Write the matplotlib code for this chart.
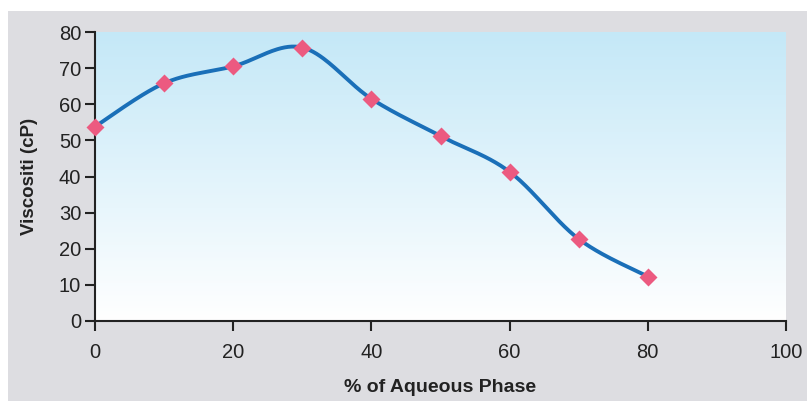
import matplotlib.pyplot as plt
import numpy as np

# aqueous phase (%) vs viscosity (cP)
aqueous = [0, 10, 20, 30, 40, 50, 60, 70, 80]
viscosity = [53.8, 65.8, 70.5, 75.7, 61.5, 51.2, 41.3, 22.7, 12.3]
x_ticks = [0, 20, 40, 60, 80, 100]
y_ticks = [0, 10, 20, 30, 40, 50, 60, 70, 80]


def smooth_curve(x, y, n=40):
    """Excel-style smoothed line: Catmull-Rom segments through the points."""
    x = np.asarray(x, float)
    y = np.asarray(y, float)
    px = np.concatenate([[x[0]], x, [x[-1]]])
    py = np.concatenate([[y[0]], y, [y[-1]]])
    xs, ys = [], []
    t = np.linspace(0, 1, n)
    for i in range(1, len(px) - 2):
        p0, p1, p2, p3 = [np.array([px[j], py[j]]) for j in range(i - 1, i + 3)]
        c1 = p1 + (p2 - p0) / 6
        c2 = p2 - (p3 - p1) / 6
        b = ((1 - t) ** 3)[:, None] * p1 + (3 * (1 - t) ** 2 * t)[:, None] * c1 \
            + (3 * (1 - t) * t ** 2)[:, None] * c2 + (t ** 3)[:, None] * p2
        xs.extend(b[:, 0])
        ys.extend(b[:, 1])
    return np.array(xs), np.array(ys)


plt.rcParams['font.family'] = ['Liberation Sans', 'DejaVu Sans']

fig = plt.figure(figsize=(8.07, 4.01), dpi=100)
fig.patch.set_facecolor('white')
# grey chart area below the white strip
fig.patches.append(plt.Rectangle((8 / 807, 0), 1, 1 - 11 / 401, transform=fig.transFigure,
                                 facecolor='#dddde1', edgecolor='none', zorder=-10))

ax = fig.add_axes([95 / 807, (401 - 321) / 401, (786 - 95) / 807, (321 - 32) / 401])
ax.set_xlim(0, 100)
ax.set_ylim(0, 80)

# vertical gradient from light blue (top) to white (bottom)
grad = np.linspace(0, 1, 256)[:, None]
top = np.array([0.77, 0.91, 0.97])
bottom = np.array([1.0, 1.0, 1.0])
img = bottom + (top - bottom) * grad
ax.imshow(img[:, None, :].repeat(2, axis=1), extent=[0, 100, 0, 80], origin='lower',
          aspect='auto', zorder=0)

sx, sy = smooth_curve(aqueous, viscosity)
ax.plot(sx, sy, color='#1a6fb8', lw=2.8, zorder=2, solid_capstyle='round')
ax.plot(aqueous, viscosity, linestyle='none', marker='D', markersize=9,
        color='#ec5a80', markeredgecolor='none', zorder=3, clip_on=False)

for s in ['top', 'right']:
    ax.spines[s].set_visible(False)
for s in ['left', 'bottom']:
    ax.spines[s].set_linewidth(1.5)
    ax.spines[s].set_color('#222222')

ax.set_xticks(x_ticks)
ax.set_yticks(y_ticks)
ax.tick_params(axis='both', labelsize=14.5, colors='#222222', width=1.5, length=7, direction='out')
ax.tick_params(axis='x', pad=9)
ax.tick_params(axis='y', pad=3)

ax.set_xlabel('% of Aqueous Phase', fontsize=14, fontweight='bold', color='#222222', labelpad=12)
ax.set_ylabel('Viscositi (cP)', fontsize=13.5, fontweight='bold', color='#222222', labelpad=15)

fig.savefig('out.png', dpi=100, facecolor=fig.get_facecolor())
